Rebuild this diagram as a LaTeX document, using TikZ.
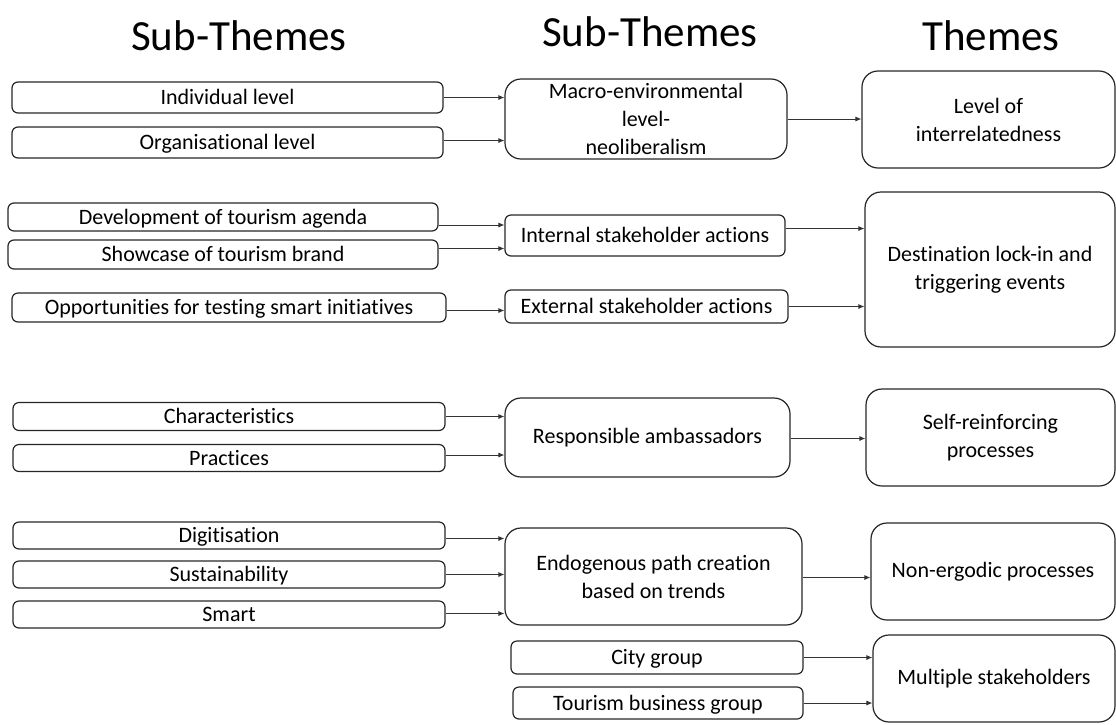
\documentclass[tikz,border=0pt]{standalone}
\usepackage{fontspec}
\setmainfont{Carlito}[Ligatures=NoCommon]
\usepackage{tikz}
\usetikzlibrary{arrows.meta}
\tikzset{
		boxStyle/.style = {draw=black!85,line width=1.2pt,rounded corners=6pt,inner sep=0pt,
		                   align=center,font=\fontsize{22}{28}\selectfont},
		lineBoxStyle/.style = {boxStyle,text height=14pt,text depth=0pt},
		bigBoxStyle/.style = {boxStyle,rounded corners=16pt},
		headStyle/.style = {anchor=base,font=\fontsize{43}{48}\selectfont},
		edgeStyle/.style = {-{Latex[length=6pt,width=5pt]},line width=0.8pt,draw=black!80}
}
\newcommand\subBox[6]{%
  \node [lineBoxStyle,minimum width=#4pt,minimum height=#5pt] (#1) at (#2,#3) {#6};}
\newcommand\themeBox[6]{%
  \node [bigBoxStyle,minimum width=#4pt,minimum height=#5pt] (#1) at (#2,#3) {#6};}

\begin{document}
\begin{tikzpicture}[x=1pt,y=-1pt]
  \useasboundingbox (0,0) rectangle (1116,724);

  % Column headings
  \node [headStyle] (headA) at (239,50) {Sub-Themes};
  \node [headStyle] (headB) at (650,46) {Sub-Themes};
  \node [headStyle] (headC) at (991,50) {Themes};

  % Draw left column of sub-themes
  \foreach \name/\cx/\cy/\w/\h/\txt in {
      ind/227.5/97.5/431/31/Individual level,
      org/227.5/142.5/431/31/Organisational level,
      dev/223/217/430/28/Development of tourism agenda,
      show/223/254.5/430/29/Showcase of tourism brand,
      opp/229/307.5/434/29/Opportunities for testing smart initiatives,
      char/229/416.5/432/28/Characteristics,
      prac/229/458/432/27/Practices,
      dig/229/535.5/432/27/Digitisation,
      sus/229/574.5/432/27/Sustainability,
      smart/229/614.5/432/27/Smart}
    {\subBox{\name}{\cx}{\cy}{\w}{\h}{\txt}}

  % Draw middle column of sub-themes
  \themeBox{macro}{646}{119}{282}{80}{Macro-environmental\\level-\\neoliberalism}
  \subBox{intern}{645}{235.5}{280}{41}{Internal stakeholder actions}
  \subBox{extern}{646.5}{306.5}{283}{33}{External stakeholder actions}
  \themeBox{resp}{647.5}{437.5}{285}{79}{Responsible ambassadors}
  \themeBox{endo}{653.5}{576.5}{297}{97}{Endogenous path creation\\based on trends}
  \subBox{city}{657}{657.5}{292}{33}{City group}
  \subBox{tbg}{658}{703}{290}{32}{Tourism business group}

  % Draw right column of themes
  \themeBox{lvl}{988.5}{119.5}{253}{97}{Level of\\interrelatedness}
  \themeBox{dest}{990}{269.5}{250}{155}{Destination lock-in and\\triggering events}
  \themeBox{self}{990.5}{437.5}{249}{97}{Self-reinforcing\\processes}
  \themeBox{nonerg}{993}{571.5}{244}{97}{Non-ergodic processes}
  \themeBox{multi}{994}{678.5}{242}{87}{Multiple stakeholders}

  % Draw edges into the middle column
  \foreach \src/\dst/\dy in {ind/macro/0pt,org/macro/2pt,dev/intern/-8pt,show/intern/6pt,
                             opp/extern/-3pt,char/resp/0pt,prac/resp/3pt,
                             dig/endo/-3pt,sus/endo/0pt,smart/endo/1pt}
    \draw [edgeStyle] ([yshift=\dy]\src.east) -- ([yshift=\dy]\src.east -| \dst.west);

  % Draw edges into the themes
  \foreach \src/\dst/\dy in {macro/lvl/0pt,intern/dest/7pt,extern/dest/0pt,resp/self/-1pt,
                             endo/nonerg/-1pt,city/multi/0pt,tbg/multi/0pt}
    \draw [edgeStyle] ([yshift=\dy]\src.east) -- ([yshift=\dy]\src.east -| \dst.west);

\end{tikzpicture}
\end{document}
